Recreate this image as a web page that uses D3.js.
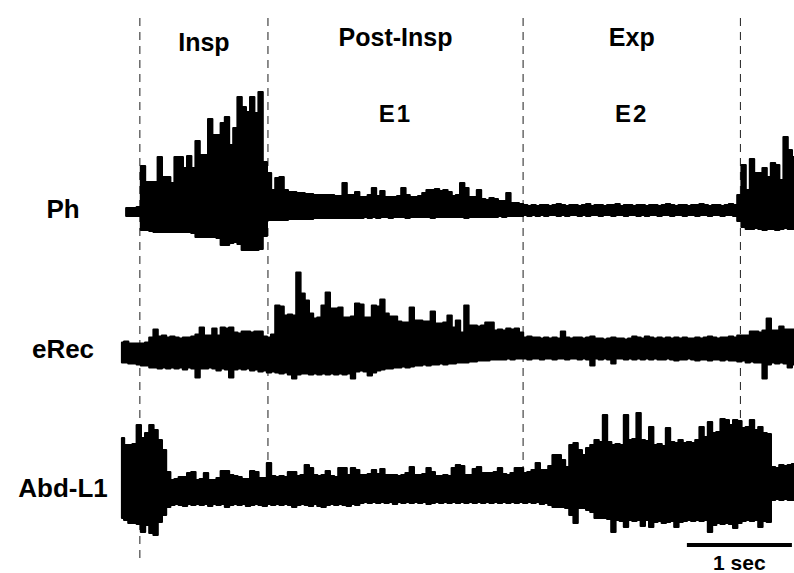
<!DOCTYPE html>
<html>
<head>
<meta charset="utf-8">
<script src="https://cdn.jsdelivr.net/npm/d3@7"></script>
<style>
  body { margin: 0; background: #fff; }
  text { font-family: "Liberation Sans", Arial, Helvetica, sans-serif; font-weight: bold; fill: #000; }
</style>
</head>
<body>
<div id="chart-area"></div>
<script>
// recording: envelope of each nerve trace, sampled every 40 ms (upper / lower, arbitrary units)
var sampleStep = 0.04;
var channels = ["Ph", "eRec", "Abd-L1"];

var phHi = [null, 3, 3, 3, 4, 45, 29, 29, 29, 54, 34, 34, 28, 54, 54, 43, 55, 43, 70, 56,
  56, 92, 76, 76, 88, 94, 66, 83, 114, 104, 99, 114, 98, 119, 49, 38, 21, 33, 34, 21,
  19, 19, 18, 18, 17, 17, 16, 16, 16, 16, 16, 15, 15, 28, 16, 16, 19, 14, 14, 16,
  23, 15, 20, 14, 14, 14, 15, 23, 16, 14, 14, 15, 18, 21, 21, 22, 20, 21, 19, 15,
  16, 28, 23, 14, 14, 21, 12, 11, 13, 12, 10, 10, 18, 8, 8, 7, 6, 5, 6, 5,
  6, 6, 5, 6, 7, 6, 5, 6, 6, 5, 6, 7, 5, 6, 6, 5, 6, 6, 7, 5,
  6, 6, 5, 6, 6, 5, 6, 6, 5, 6, 7, 6, 5, 6, 6, 5, 6, 6, 7, 6,
  5, 6, 6, 5, 6, 7, 6, 16, 46, 21, 52, 38, 38, 43, 34, 48, 46, 31, 74, 61, 54];
var phLo = [null, -5, -5, -5, -5, -19, -19, -20, -21, -21, -21, -21, -21, -21, -21, -21, -21, -22, -26, -26,
  -26, -26, -26, -27, -34, -34, -32, -31, -33, -39, -39, -39, -39, -38, -25, -9, -9, -9, -9, -9,
  -8, -8, -8, -8, -8, -8, -7, -7, -7, -7, -7, -7, -7, -7, -7, -7, -7, -7, -6, -7,
  -6, -7, -6, -6, -7, -6, -6, -6, -7, -6, -6, -6, -6, -6, -7, -6, -6, -6, -6, -6,
  -6, -6, -7, -6, -6, -6, -6, -6, -6, -6, -5, -6, -5, -5, -5, -5, -4, -5, -4, -5,
  -4, -5, -4, -4, -5, -4, -5, -4, -4, -5, -4, -5, -4, -4, -5, -4, -4, -5, -4, -4,
  -5, -4, -4, -5, -4, -5, -4, -4, -5, -4, -4, -5, -4, -4, -5, -4, -4, -5, -4, -4,
  -5, -4, -4, -5, -4, -4, -5, -10, -16, -18, -18, -17, -18, -19, -18, -18, -19, -18, -17, -18, -18];

var eRecHi = [8, 9, 7, 7, 7, 7, 8, 13, 21, 14, 15, 13, 14, 13, 12, 13, 13, 14, 16, 23,
  15, 15, 22, 15, 23, 22, 23, 18, 17, 19, 19, 18, 19, 19, 14, 13, 16, 45, 44, 35,
  36, 35, 78, 57, 50, 37, 32, 33, 45, 58, 42, 42, 43, 33, 33, 34, 47, 46, 33, 33,
  45, 44, 51, 37, 34, 34, 29, 28, 28, 43, 30, 30, 29, 29, 39, 27, 27, 28, 35, 23,
  30, 18, 45, 25, 25, 24, 25, 28, 28, 20, 21, 20, 22, 21, 22, 18, 13, 14, 13, 13,
  12, 13, 12, 13, 12, 19, 13, 12, 13, 13, 12, 13, 14, 12, 12, 11, 12, 13, 12, 12,
  11, 12, 14, 13, 12, 14, 13, 12, 13, 12, 13, 12, 13, 12, 13, 12, 12, 13, 12, 13,
  14, 13, 12, 13, 13, 14, 13, 15, 15, 15, 19, 19, 18, 20, 32, 20, 20, 24, 21, 21, 21];
var eRecLo = [-12, -12, -13, -13, -14, -15, -15, -17, -17, -18, -17, -18, -17, -18, -17, -19, -17, -18, -27, -18,
  -18, -17, -18, -20, -18, -19, -27, -19, -18, -19, -18, -20, -19, -21, -20, -22, -21, -22, -23, -22,
  -24, -28, -24, -23, -23, -24, -23, -24, -23, -24, -23, -24, -23, -24, -23, -28, -21, -20, -21, -25,
  -22, -20, -19, -18, -18, -17, -17, -16, -17, -16, -15, -15, -14, -15, -14, -14, -13, -14, -13, -13,
  -12, -12, -12, -11, -11, -10, -10, -10, -9, -9, -9, -9, -8, -9, -8, -8, -8, -9, -8, -8,
  -9, -8, -8, -9, -8, -8, -9, -8, -8, -9, -8, -9, -15, -8, -9, -8, -9, -13, -8, -8,
  -9, -8, -9, -8, -9, -8, -9, -8, -9, -9, -8, -9, -10, -9, -9, -8, -9, -10, -9, -9,
  -10, -9, -9, -10, -9, -10, -10, -11, -10, -12, -11, -12, -12, -28, -14, -12, -13, -12, -13, -17, -14];

var abdHi = [52, 45, 45, 46, 65, 52, 57, 65, 60, 50, 40, 18, 10, 11, 13, 13, 17, 18, 10, 11,
  17, 10, 10, 12, 19, 19, 15, 14, 13, 11, 11, 19, 18, 12, 12, 27, 14, 13, 14, 13,
  18, 18, 14, 15, 25, 22, 15, 14, 15, 19, 14, 13, 22, 22, 15, 22, 20, 15, 15, 16,
  20, 16, 21, 15, 15, 15, 14, 15, 17, 23, 15, 15, 16, 22, 18, 14, 14, 15, 14, 22,
  25, 24, 15, 15, 21, 23, 17, 17, 17, 18, 22, 16, 15, 17, 22, 22, 17, 18, 20, 27,
  20, 20, 24, 35, 35, 30, 23, 45, 47, 40, 35, 42, 45, 50, 48, 75, 48, 45, 46, 45,
  75, 50, 51, 77, 50, 49, 63, 45, 46, 44, 62, 48, 47, 50, 47, 48, 47, 50, 63, 53,
  68, 57, 58, 71, 70, 65, 70, 69, 62, 63, 70, 60, 63, 57, 56, 23, 22, 25, 24, 25, 26];
var abdLo = [-28, -30, -33, -33, -34, -42, -35, -43, -45, -32, -25, -17, -15, -14, -15, -16, -14, -15, -14, -15,
  -14, -16, -14, -15, -14, -17, -15, -14, -15, -14, -16, -15, -14, -15, -16, -14, -15, -14, -15, -14,
  -15, -17, -15, -14, -15, -16, -14, -16, -17, -15, -14, -15, -14, -15, -16, -14, -15, -13, -12, -13,
  -12, -13, -12, -13, -12, -14, -12, -13, -12, -13, -12, -13, -12, -14, -13, -12, -13, -12, -13, -12,
  -13, -12, -13, -12, -13, -12, -13, -12, -13, -12, -13, -12, -13, -12, -13, -12, -13, -12, -13, -12,
  -14, -13, -15, -17, -17, -17, -18, -25, -33, -18, -18, -20, -22, -28, -28, -28, -29, -42, -30, -31,
  -37, -30, -31, -30, -36, -30, -37, -32, -31, -33, -32, -31, -37, -32, -31, -30, -31, -30, -31, -30,
  -42, -35, -33, -34, -33, -34, -38, -33, -31, -30, -31, -30, -37, -31, -32, -10, -9, -10, -9, -10, -10];

// phase boundaries (s) and labels
var phaseBounds = [0.17, 1.39, 3.82, 5.89];
var phaseNames = ["Insp", "Post-Insp", "Exp"];
var phaseCodes = ["", "E1", "E2"];
var scaleBarSec = [5.38, 6.38];

var width = 794, height = 573;
var svg = d3.select("#chart-area").append("svg")
    .attr("width", width)
    .attr("height", height);

var x = d3.scaleLinear()
    .domain([0, 6.4])
    .range([122, 794]);

var row = d3.scalePoint()
    .domain(channels)
    .range([211, 490]);

var traces = [
    {name: "Ph", hi: phHi, lo: phLo},
    {name: "eRec", hi: eRecHi, lo: eRecLo},
    {name: "Abd-L1", hi: abdHi, lo: abdLo}
];

// dashed phase markers (drawn first so the traces cover them)
var dashEnds = [560, 470, 470, 420];
svg.selectAll(".marker").data(phaseBounds)
    .enter().append("line")
        .attr("class", "marker")
        .attr("x1", d => x(d))
        .attr("x2", d => x(d))
        .attr("y1", 18)
        .attr("y2", (d, i) => dashEnds[i])
        .attr("stroke", "#333")
        .attr("stroke-width", 1.1)
        .attr("stroke-dasharray", "8,6");

traces.forEach(tr => {
    var amp = d3.scaleLinear()
        .domain([-100, 100])
        .range([row(tr.name) + 100, row(tr.name) - 100]);
    var pts = tr.hi.map((h, i) => ({t: i * sampleStep, hi: h, lo: tr.lo[i]}));
    var area = d3.area()
        .defined(d => d.hi != null)
        .curve(d3.curveStep)
        .x(d => x(d.t))
        .y0(d => amp(d.lo))
        .y1(d => amp(d.hi));
    svg.append("path")
        .datum(pts)
        .attr("d", area)
        .attr("fill", "#000")
        .attr("stroke", "#000")
        .attr("stroke-width", 2.2)
        .attr("stroke-linejoin", "round");

    svg.append("text")
        .attr("x", 63)
        .attr("y", row(tr.name) + 7)
        .attr("text-anchor", "middle")
        .attr("font-size", "26px")
        .text(tr.name);
});

// phase names on top
var mids = phaseNames.map((n, i) => (phaseBounds[i] + phaseBounds[i + 1]) / 2);
svg.selectAll(".phase").data(phaseNames)
    .enter().append("text")
        .attr("class", "phase")
        .attr("x", (d, i) => x(mids[i]))
        .attr("y", (d, i) => i == 0 ? 51 : 46)
        .attr("text-anchor", "middle")
        .attr("font-size", "25px")
        .text(d => d);

svg.selectAll(".code").data(phaseCodes)
    .enter().append("text")
        .attr("class", "code")
        .attr("x", (d, i) => x(mids[i]))
        .attr("y", 122)
        .attr("text-anchor", "middle")
        .attr("font-size", "24px")
        .attr("letter-spacing", "2px")
        .text(d => d);

// time scale bar
svg.append("line")
    .attr("x1", x(scaleBarSec[0]))
    .attr("x2", x(scaleBarSec[1]))
    .attr("y1", 545)
    .attr("y2", 545)
    .attr("stroke", "#000")
    .attr("stroke-width", 4);
svg.append("text")
    .attr("x", x((scaleBarSec[0] + scaleBarSec[1]) / 2))
    .attr("y", 570)
    .attr("text-anchor", "middle")
    .attr("font-size", "21px")
    .text("1 sec");
</script>
</body>
</html>
